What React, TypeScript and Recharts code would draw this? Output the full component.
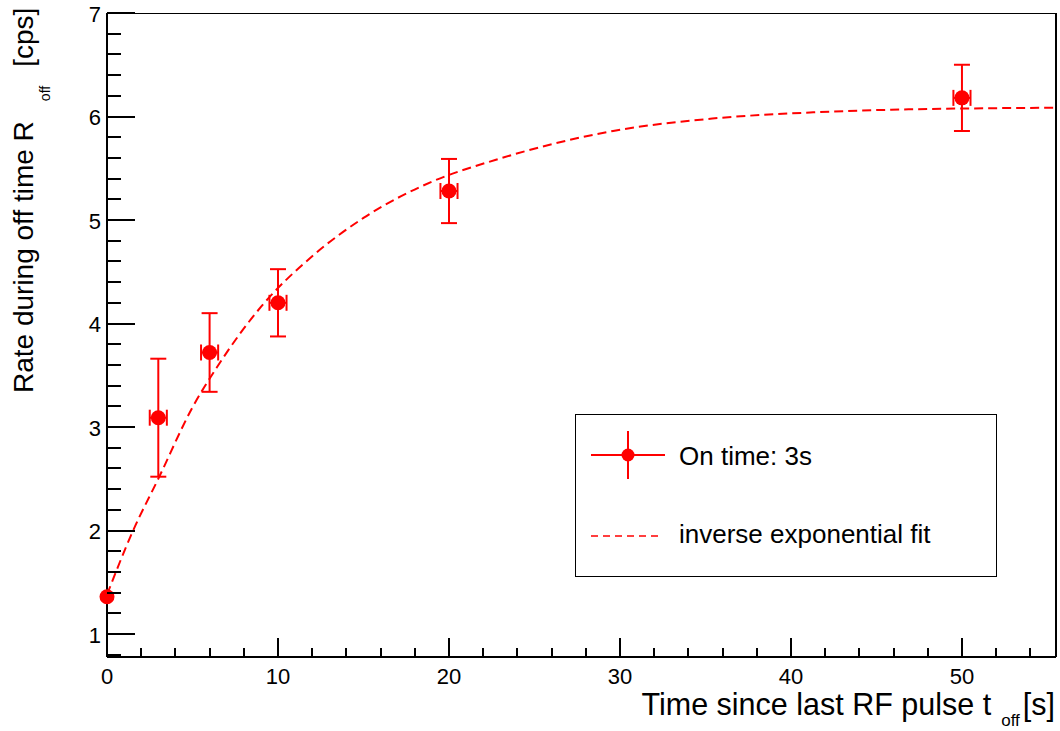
import React from 'react';
import {
  ComposedChart,
  Scatter,
  Line,
  XAxis,
  YAxis,
  ErrorBar,
  ReferenceLine,
  Legend,
} from 'recharts';

// ---- data ----
const pointX = [0, 3, 6, 10, 20, 50];
const pointY = [1.36, 3.09, 3.72, 4.2, 5.28, 6.18];
const pointYErr = [0, 0.57, 0.38, 0.325, 0.31, 0.32];
const pointXErr = [0, 0.5, 0.5, 0.5, 0.5, 0.5];

const fitX = [0, 1.5, 3, 5, 6.4, 9, 12, 15, 19, 22.7, 29.6, 35.4, 41.3, 47.1, 51.7, 55.5];
const fitY = [1.38, 1.99, 2.5, 3.19, 3.57, 4.16, 4.65, 5.02, 5.37, 5.58, 5.86, 5.98, 6.04, 6.07, 6.08, 6.085];

const xTicks = [0, 2, 4, 6, 8, 10, 12, 14, 16, 18, 20, 22, 24, 26, 28, 30, 32, 34, 36, 38, 40, 42, 44, 46, 48, 50, 52, 54];
const xLabelTicks = [0, 10, 20, 30, 40, 50];
const yTicks = [
  0.8, 1, 1.2, 1.4, 1.6, 1.8, 2, 2.2, 2.4, 2.6, 2.8, 3, 3.2, 3.4, 3.6, 3.8, 4, 4.2, 4.4, 4.6, 4.8,
  5, 5.2, 5.4, 5.6, 5.8, 6, 6.2, 6.4, 6.6, 6.8, 7,
];
const yLabelTicks = [1, 2, 3, 4, 5, 6, 7];

const xDomain = [0, 55.5];
const yDomain = [0.778, 7];

const seriesName = 'On time: 3s';
const fitName = 'inverse exponential fit';
const xTitleMain = 'Time since last RF pulse t';
const xTitleSub = 'off';
const xTitleUnit = '[s]';
const yTitleMain = 'Rate during off time R';
const yTitleSub = 'off';
const yTitleUnit = '[cps]';

const points = pointX.map((x, i) => ({ x, y: pointY[i], ey: pointYErr[i], ex: pointXErr[i] }));
const fitData = fitX.map((x, i) => ({ x, y: fitY[i] }));

const RED = '#ff0000';
const FONT = '"Liberation Sans", Arial, Helvetica, sans-serif';

const isLabelX = (v: number) => xLabelTicks.some((t) => Math.abs(t - v) < 1e-6);
const isLabelY = (v: number) => yLabelTicks.some((t) => Math.abs(t - v) < 1e-6);

const XTick = (props: any) => {
  const { x, y, payload } = props;
  const v = payload.value;
  const major = isLabelX(v);
  return (
    <g>
      <line
        x1={x}
        x2={x}
        y1={y}
        y2={y - (major ? 19 : 9.5)}
        stroke="#000"
        strokeWidth={2}
        shapeRendering="crispEdges"
      />
      {major && (
        <text x={x} y={y + 27} textAnchor="middle" fontSize={22} fill="#000" fontFamily={FONT}>
          {v}
        </text>
      )}
    </g>
  );
};

const YTick = (props: any) => {
  const { x, y, payload } = props;
  const v = payload.value;
  const major = isLabelY(v);
  return (
    <g>
      <line
        x1={x}
        x2={x + (major ? 28 : 14)}
        y1={y}
        y2={y}
        stroke="#000"
        strokeWidth={2}
        shapeRendering="crispEdges"
      />
      {major && (
        <text x={x - 6} y={y + 8.5} textAnchor="end" fontSize={22} fill="#000" fontFamily={FONT}>
          {v}
        </text>
      )}
    </g>
  );
};

const renderXTitle = () => (
  <text x={1055} y={715} textAnchor="end" fontSize={30.5} fill="#000" fontFamily={FONT}>
    {xTitleMain}
    <tspan dx={10} dy={11} fontSize={17}>
      {xTitleSub}
    </tspan>
    <tspan dx={3} dy={-11}>
      {xTitleUnit}
    </tspan>
  </text>
);

const renderYTitle = () => (
  <text
    transform="rotate(-90)"
    x={-393}
    y={33}
    textAnchor="start"
    fontSize={28}
    fill="#000"
    fontFamily={FONT}
  >
    {yTitleMain}
    <tspan dx={20} dy={17} fontSize={14}>
      {yTitleSub}
    </tspan>
    <tspan dx={19} dy={-17}>
      {yTitleUnit}
    </tspan>
  </text>
);

const LegendBox = () => (
  <svg width={423} height={164} style={{ display: 'block' }}>
    <rect x={0.5} y={0.5} width={421} height={162} fill="#fff" stroke="#000" strokeWidth={1} />
    <line x1={16} x2={90} y1={41} y2={41} stroke={RED} strokeWidth={2} />
    <line x1={53} x2={53} y1={17} y2={65} stroke={RED} strokeWidth={2} />
    <circle cx={53} cy={41} r={6.5} fill={RED} />
    <text x={104} y={51} fontSize={26} fill="#000" fontFamily={FONT}>
      {seriesName}
    </text>
    <line x1={16} x2={88} y1={122} y2={122} stroke={RED} strokeWidth={1.6} strokeDasharray="7 5" />
    <text x={104} y={129} fontSize={26} fill="#000" fontFamily={FONT}>
      {fitName}
    </text>
  </svg>
);

const Dot = (props: any) => <circle cx={props.cx} cy={props.cy} r={7.5} fill={RED} />;

export default function App() {
  return (
    <div style={{ position: 'absolute', left: 0, top: 0, width: 1060, height: 731, background: '#fff', fontFamily: FONT }}>
      <ComposedChart width={1060} height={731} margin={{ top: 13, right: 4, bottom: 0, left: 0 }}>
        <XAxis
          dataKey="x"
          type="number"
          domain={xDomain}
          ticks={xTicks}
          interval={0}
          tickSize={0}
          tickMargin={0}
          tickLine={false}
          tick={<XTick />}
          axisLine={{ stroke: '#000', strokeWidth: 2, shapeRendering: 'crispEdges' }}
          height={74}
          label={renderXTitle}
        />
        <YAxis
          dataKey="y"
          type="number"
          domain={yDomain}
          ticks={yTicks}
          interval={0}
          tickSize={0}
          tickMargin={0}
          tickLine={false}
          tick={<YTick />}
          axisLine={{ stroke: '#000', strokeWidth: 2, shapeRendering: 'crispEdges' }}
          width={107}
          label={renderYTitle}
        />
        <ReferenceLine y={7} stroke="#000" strokeWidth={1} shapeRendering="crispEdges" />
        <ReferenceLine x={55.5} stroke="#000" strokeWidth={2} shapeRendering="crispEdges" />
        <Line
          data={fitData}
          dataKey="y"
          type="monotone"
          dot={false}
          activeDot={false}
          stroke={RED}
          strokeWidth={2}
          strokeDasharray="9 5"
          isAnimationActive={false}
        />
        <Scatter data={points} dataKey="y" shape={<Dot />} isAnimationActive={false}>
          <ErrorBar dataKey="ey" direction="y" width={8} stroke={RED} strokeWidth={2} isAnimationActive={false} />
          <ErrorBar dataKey="ex" direction="x" width={8} stroke={RED} strokeWidth={2} isAnimationActive={false} />
        </Scatter>
        <Legend
          content={<LegendBox />}
          layout="horizontal"
          verticalAlign="middle"
          align="center"
          wrapperStyle={{ left: 575, top: 414, width: 423, height: 164 }}
        />
      </ComposedChart>
    </div>
  );
}
